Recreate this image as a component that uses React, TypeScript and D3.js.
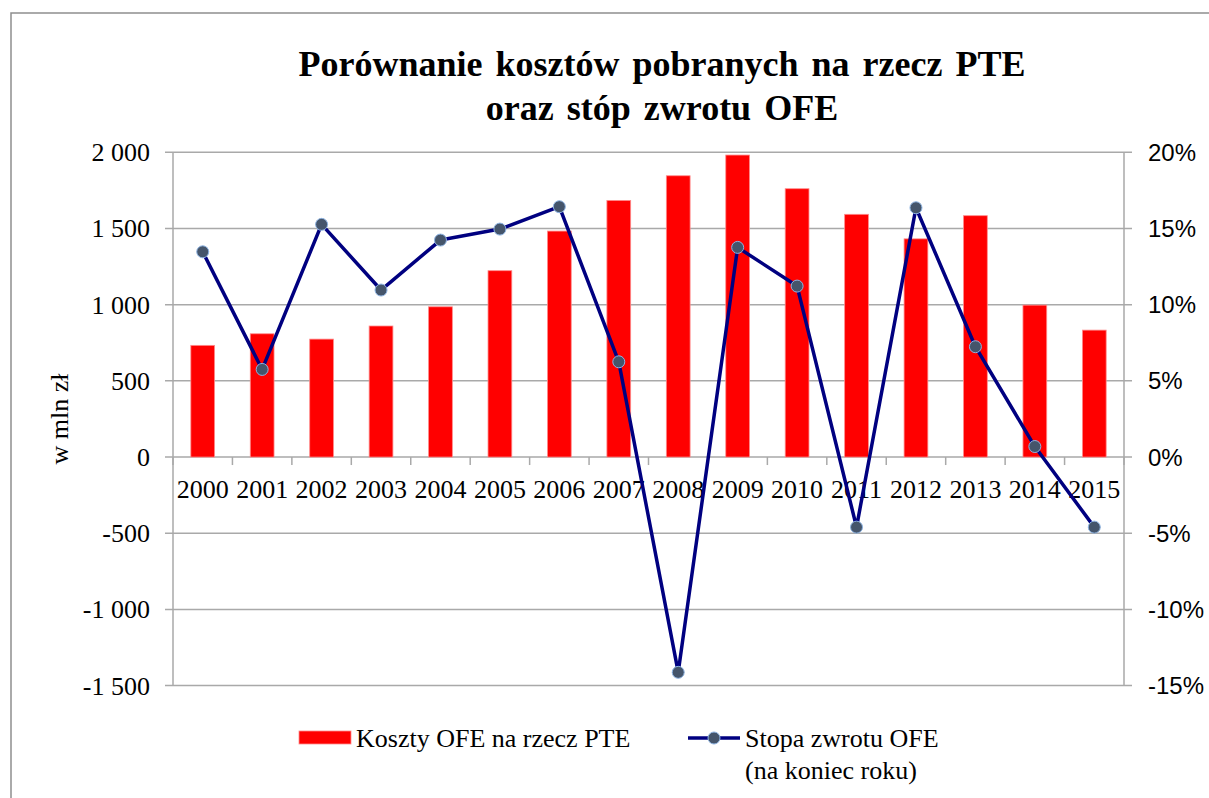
import React from "react";
import * as d3 from "d3";

const years = ["2000","2001","2002","2003","2004","2005","2006","2007","2008","2009","2010","2011","2012","2013","2014","2015"];
const costs = [733, 809, 774, 860, 986, 1223, 1483, 1684, 1846, 1982, 1761, 1593, 1432, 1584, 997, 833];
const returns = [13.47, 5.75, 15.27, 10.96, 14.24, 14.96, 16.43, 6.25, -14.13, 13.76, 11.22, -4.6, 16.36, 7.24, 0.69, -4.6];
const leftTicks = [-1500, -1000, -500, 0, 500, 1000, 1500, 2000];
const rightTicks = [-15, -10, -5, 0, 5, 10, 15, 20];
const titleLines = ["Porównanie kosztów pobranych na rzecz PTE", "oraz stóp zwrotu OFE"];
const yTitle = "w mln zł";
const legendBar = "Koszty OFE na rzecz PTE";
const legendLine = ["Stopa zwrotu OFE", "(na koniec roku)"];

const plotL = 173, plotR = 1124, plotT = 152.3, plotB = 685.6;
const GRID = "#A9A9A9";
const SERIF = "'Liberation Serif', 'Times New Roman', serif";
const SANS = "'Liberation Sans', Arial, sans-serif";

const loc = d3.formatLocale({ thousands: " ", grouping: [3], decimal: ",", currency: ["", ""], minus: "-" });
const fmt = loc.format(",");

export default function App() {
  const x = d3.scaleBand<string>().domain(years).range([plotL, plotR]).paddingInner(0.6).paddingOuter(0.3);
  const yL = d3.scaleLinear().domain([-1500, 2000]).range([plotB, plotT]);
  const yR = d3.scaleLinear().domain([-15, 20]).range([plotB, plotT]);
  const step = x.step();
  const cx = (y: string) => (x(y) as number) + x.bandwidth() / 2;
  const linePath = d3.line<number>().x((_, i) => cx(years[i])).y((d) => yR(d))(returns) || "";
  const boundaries = d3.range(years.length + 1).map((i) => plotL + i * step);

  return (
    <svg width={1209} height={798} style={{ position: "fixed", left: 0, top: 0, background: "#fff" }}>
      <rect x={0} y={0} width={1209} height={798} fill="#fff" />
      {/* outer frame */}
      <path d={`M11,800 V13 H1212`} fill="none" stroke="#8E8E8E" strokeWidth={1.5} />
      {/* title */}
      {titleLines.map((t, i) => (
        <text key={t} x={662} y={76 + i * 44} textAnchor="middle" fontFamily={SERIF} fontWeight="bold" fontSize={36} wordSpacing={4} fill="#000">
          {t}
        </text>
      ))}
      {/* gridlines */}
      {leftTicks.map((v) => (
        <line key={"g" + v} x1={plotL - 8} x2={plotR + 8} y1={yL(v)} y2={yL(v)} stroke={GRID} strokeWidth={1.5} />
      ))}
      {/* axes */}
      <line x1={plotL} x2={plotL} y1={plotT} y2={plotB} stroke={GRID} strokeWidth={1.5} />
      <line x1={plotR} x2={plotR} y1={plotT} y2={plotB} stroke={GRID} strokeWidth={1.5} />
      {boundaries.map((bx, i) => (
        <line key={"t" + i} x1={bx} x2={bx} y1={yL(0)} y2={yL(0) + 8} stroke={GRID} strokeWidth={1.5} />
      ))}
      {/* bars */}
      {costs.map((v, i) => (
        <rect key={"b" + i} x={x(years[i])} y={yL(v)} width={x.bandwidth()} height={yL(0) - yL(v)} fill="#FF0000" stroke="#FF8C8C" strokeWidth={0.8} />
      ))}
      {/* left labels */}
      {leftTicks.map((v) => (
        <text key={"l" + v} x={150} y={yL(v) + 9} textAnchor="end" fontFamily={SERIF} fontSize={26} fill="#000">
          {fmt(v)}
        </text>
      ))}
      {/* right labels */}
      {rightTicks.map((v) => (
        <text key={"r" + v} x={1148} y={yR(v) + 8.5} textAnchor="start" fontFamily={SANS} fontSize={24} fill="#000">
          {`${v}%`}
        </text>
      ))}
      {/* x labels */}
      {years.map((yv) => (
        <text key={"x" + yv} x={cx(yv)} y={498} textAnchor="middle" fontFamily={SERIF} fontSize={26} fill="#000">
          {yv}
        </text>
      ))}
      {/* y title */}
      <text transform={`translate(68,${(plotT + plotB) / 2}) rotate(-90)`} textAnchor="middle" fontFamily={SERIF} fontSize={26} fill="#000">
        {yTitle}
      </text>
      {/* line */}
      <path d={linePath} fill="none" stroke="#000080" strokeWidth={3.5} strokeLinejoin="round" />
      {returns.map((v, i) => (
        <circle key={"m" + i} cx={cx(years[i])} cy={yR(v)} r={6} fill="#45556B" stroke="#8DB3E2" strokeWidth={1} />
      ))}
      {/* legend */}
      <rect x={299} y={731} width={52} height={13} fill="#FF0000" stroke="#FF8C8C" strokeWidth={0.8} />
      <text x={356} y={747} fontFamily={SERIF} fontSize={26} fill="#000">{legendBar}</text>
      <line x1={688} x2={740} y1={738} y2={738} stroke="#000080" strokeWidth={3.5} />
      <circle cx={714} cy={738} r={6} fill="#45556B" stroke="#8DB3E2" strokeWidth={1} />
      <text x={745} y={747} fontFamily={SERIF} fontSize={26} fill="#000">{legendLine[0]}</text>
      <text x={745} y={779} fontFamily={SERIF} fontSize={26} fill="#000">{legendLine[1]}</text>
    </svg>
  );
}
